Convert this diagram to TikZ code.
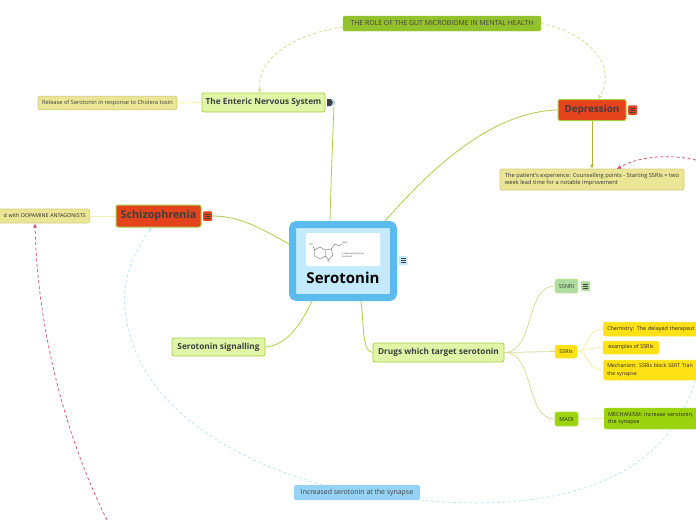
\documentclass[tikz,border=0pt]{standalone}
\usepackage{fontspec}
\setmainfont{Open Sans}
\usetikzlibrary{arrows.meta}
\definecolor{dk}{HTML}{3F3F3F}
\definecolor{redf}{HTML}{E5431B}
\definecolor{lime}{HTML}{A9CF45}
\definecolor{limefill}{HTML}{E0F5A5}
\definecolor{khaki}{HTML}{EAE696}
\definecolor{khakid}{HTML}{D3CF7B}
\definecolor{yel}{HTML}{FFE116}
\definecolor{grn}{HTML}{9BD40F}
\definecolor{gutg}{HTML}{94C22C}
\definecolor{sky}{HTML}{5BBBEE}
\definecolor{skyin}{HTML}{C4EBFD}
\definecolor{skyb}{HTML}{95D3F5}
\definecolor{skyd}{HTML}{BDE5FA}
\definecolor{pale}{HTML}{F5F1B4}
\definecolor{olive}{HTML}{D8D592}
\definecolor{olived}{HTML}{B0AE3A}
\definecolor{crim}{HTML}{CF4A6B}
\definecolor{ssn}{HTML}{ADDC9E}
\tikzset{x=1pt,y=-1pt,
 box/.style 2 args={rectangle,rounded corners=2pt,inner sep=0pt,minimum width=#1,minimum height=#2,anchor=center,text=black},
 red box/.style={fill=redf,draw=lime,line width=1pt,text=dk},
 lime box/.style={fill=limefill,draw=lime,line width=.8pt,text=dk,font=\fontsize{8.3}{10}\selectfont\bfseries},
 khaki box/.style={fill=khaki,draw=khakid,line width=.7pt,text=black!85,font=\fontsize{5.7}{9}\selectfont},
 yel box/.style={fill=yel,draw=yel!80!white,line width=.5pt,text=black!85,font=\fontsize{5.4}{9}\selectfont},
 link/.style={lime,line width=.8pt},
 soft/.style={pale,line width=.9pt},
 stem/.style={olive,line width=.7pt},
 dashlime/.style={draw=lime!70,line width=.7pt,dash pattern=on 3pt off 2.5pt,-{Latex[length=4pt,width=4pt,open]}},
 dashsky/.style={draw=skyd,line width=.8pt,dash pattern=on 3pt off 2.5pt},
 dashred/.style={draw=crim,line width=.7pt,dash pattern=on 3pt off 2.5pt,-{Latex[length=4pt,width=4pt]}},
 menu/.style={rectangle,rounded corners=1pt,minimum width=9pt,minimum height=9.5pt,inner sep=0pt},
 mol/.style={black!70,line width=.3pt},
 mollabel/.style={font=\fontsize{2.4}{3}\selectfont,text=black!75,inner sep=0pt},
}
\newcommand{\menubars}[1]{\draw[dk,line width=.6pt] (#1)++(-2.5,-2)--++(5,0) (#1)++(-2.5,0)--++(5,0) (#1)++(-2.5,2)--++(5,0);}
\pgfdeclarelayer{bg}\pgfsetlayers{bg,main}
\begin{document}
\begin{tikzpicture}
\useasboundingbox (0,0) rectangle (696,520);
% attachment points and free ends
\coordinate (cTop) at (330,221);
\coordinate (cTR) at (385,221);
\coordinate (cL) at (289,244);
\coordinate (cBL) at (312,301);
\coordinate (cBR) at (361,301);
\coordinate (entEnd) at (334,106);
\coordinate (offRedA) at (696,160);
\coordinate (offRedB) at (107,520);
\coordinate (offSky) at (696,378);
\coordinate (gutL) at (343,27);
\coordinate (ensIn) at (260,93);
\coordinate (depIn) at (598,99);
\coordinate (schIn) at (152,227);
\coordinate (treIn) at (35,223.5);
\coordinate (patIn) at (617,169);
\coordinate (incTop) at (323,485);
\coordinate (incR) at (420,500);
\coordinate (skyMid) at (125,310);

% nodes
\node[box={198pt}{15pt},fill=gutg,draw=gutg,text=dk,font=\fontsize{6.9}{8}\selectfont] (gut) at (442,23.5) {THE ROLE OF THE GUT MICROBIOME IN MENTAL HEALTH};
\node[box={123pt}{19pt},lime box] (ens) at (263.5,102.5) {The Enteric Nervous System};
\node[box={139pt}{13.5pt},khaki box,text=dk] (rel) at (107.5,103) {Release of Serotonin in response to Cholera toxin};
\node[box={68pt}{21pt},red box,font=\fontsize{9.8}{12}\selectfont\bfseries] (dep) at (592,110) {Depression};
\node[menu,fill=redf] (depm) at (632.5,110) {};\menubars{depm}
\node[box={184pt}{21pt},khaki box,text=black!80,align=left] (pat) at (592,179.5) {The patient's experience: Counselling points - Starting SSRIs = two\\[-1.5pt]week lead time for a notable improvement\hspace*{58pt}};
\node[box={85pt}{22pt},red box,font=\fontsize{10.8}{13}\selectfont\bfseries] (sch) at (158.5,216) {Schizophrenia};
\node[menu,fill=redf] (schm) at (207.5,216) {};\menubars{schm}
\node[box={100pt}{14pt},khaki box,anchor=east,align=right,text width=92pt,font=\fontsize{5.3}{9}\selectfont] (tre) at (90,216) {d with DOPAMINE ANTAGONISTS};
% central
\node[rectangle,rounded corners=4pt,fill=skyin,draw=sky,line width=7pt,minimum width=101pt,minimum height=73pt,inner sep=0pt] (cen) at (343,261) {};
\node[rectangle,rounded corners=2pt,fill=white,minimum width=74pt,minimum height=33pt,inner sep=0pt] (pic) at (343,249.5) {};
\node[font=\fontsize{15}{17}\selectfont\bfseries,text=black,inner sep=0pt] (ser) at (343,278) {Serotonin};
\node[font=\fontsize{2.2}{3}\selectfont,align=left,text=black!80,inner sep=0pt,anchor=west] (cap) at (342,255) {5-Hydroxytryptamine\\Serotonin};
% molecule
\draw[mol] (320,247)--(325.2,250)--(325.2,256)--(320,259)--(314.8,256)--(314.8,250)--cycle;
\draw[mol] (325.2,250)--(331,249)--(333,255)--(328.5,260)--(325.2,256)
 (331,249)--(335,244)--(339,246)--(342.5,243.5) (314.8,250)--(313,246.5);
\node[mollabel] (ho) at (311,245) {HO};
\node[mollabel] (nh) at (345,242.5) {NH2};
\node[mollabel] (hn) at (328.5,262) {N};
\node[menu,fill=skyin] (cenm) at (403,260.5) {};\menubars{cenm}
\node[box={93pt}{18pt},lime box] (sig) at (218.5,347) {Serotonin signalling};
\node[box={131pt}{19pt},lime box] (drg) at (438.5,352.5) {Drugs which target serotonin};
\node[box={23pt}{14pt},fill=ssn,draw=lime!55,line width=.7pt,text=dk,font=\fontsize{5.6}{7}\selectfont] (snr) at (566.5,286) {SSNRI};
\node[menu,fill=ssn] (snrm) at (585.5,286) {};\menubars{snrm}
\node[box={22pt}{13pt},yel box] (ssr) at (566,351.5) {SSRIs};
\node[box={23pt}{14pt},fill=grn,draw=grn!75!white,line width=.7pt,text=black!85,font=\fontsize{5.6}{7}\selectfont] (mao) at (566.5,419) {MAOI};
\node[box={110pt}{14pt},yel box,anchor=west,text width=102pt,align=left] (che) at (603,329) {Chemistry: The delayed therapeut};
\node[box={56pt}{13pt},yel box] (exa) at (631,347.5) {examples of SSRIs};
\node[box={110pt}{20pt},yel box,anchor=west,align=left,text width=102pt,font=\fontsize{5.2}{9}\selectfont] (mec) at (603,370) {Mechanism: SSRIs block SERT Tran\\[-1.5pt]the synapse};
\node[box={110pt}{21pt},fill=grn,draw=grn,text=black!85,font=\fontsize{5.5}{9}\selectfont,anchor=west,align=left,text width=102pt] (moa) at (604,418.5) {MECHANISM: increase serotonin,\\[-1.5pt]the synapse};
\node[box={126pt}{15pt},fill=skyb,text=dk,font=\fontsize{6.9}{8}\selectfont] (inc) at (357,492.5) {Increased serotonin at the synapse};

% connectors
\begin{pgfonlayer}{bg}
\draw[link] (cTop) .. controls (331,180) and (333,130) .. (entEnd);
\draw[link] (cTR) .. controls (430,170) and (490,112) .. (dep.west);
\draw[link] (cL) .. controls (260,228) and (240,216) .. (schm.east);
\draw[link] (cBL) .. controls (298,330) and (285,345) .. (sig.east);
\draw[link] (cBR) .. controls (364,325) and (362,352) .. (drg.west);
\draw[soft] (tre.east)--(sch.west);
\draw[soft] (rel.east)--(ens.west);
\draw[stem] (drg.east) .. controls (535,352) and (525,286) .. (snr.west);
\draw[stem] (drg.east)--(ssr.west);
\draw[stem] (drg.east) .. controls (535,352) and (525,419) .. (mao.west);
\draw[soft] (ssr.east) .. controls (590,351) and (585,329) .. (che.west);
\draw[soft] (ssr.east) .. controls (585,351) and (590,347.5) .. (exa.west);
\draw[soft] (ssr.east) .. controls (590,351) and (585,370) .. (mec.west);
\draw[soft] (mao.east)--(moa.west);
\draw[dashsky] (incR) .. controls (540,512) and (665,490) .. (offSky);
\end{pgfonlayer}
\draw[olived,line width=1pt,-{Latex[length=4pt,width=4pt]}] (dep.south)--(pat.north);
\fill[dk] (327,99)--(331,99)--(333,102.5)--(331,106)--(327,106)--cycle;
\draw[sky,line width=.6pt] (332,99.5)--(335,102.5)--(332,105.5);
\draw[dashlime] (gutL) .. controls (300,33) and (257,55) .. (ensIn);
\draw[dashlime] (gut.east) .. controls (590,33) and (618,68) .. (depIn);
\draw[dashsky,-{Latex[length=4pt,width=4pt,open]}] (incTop) .. controls (240,462) and (136,410) .. (skyMid) .. controls (121,280) and (135,250) .. (schIn);
\draw[dashred] (offRedB) .. controls (62,430) and (37,320) .. (treIn);
\draw[dashred] (offRedA) .. controls (665,153) and (635,158) .. (patIn);
\end{tikzpicture}
\end{document}
